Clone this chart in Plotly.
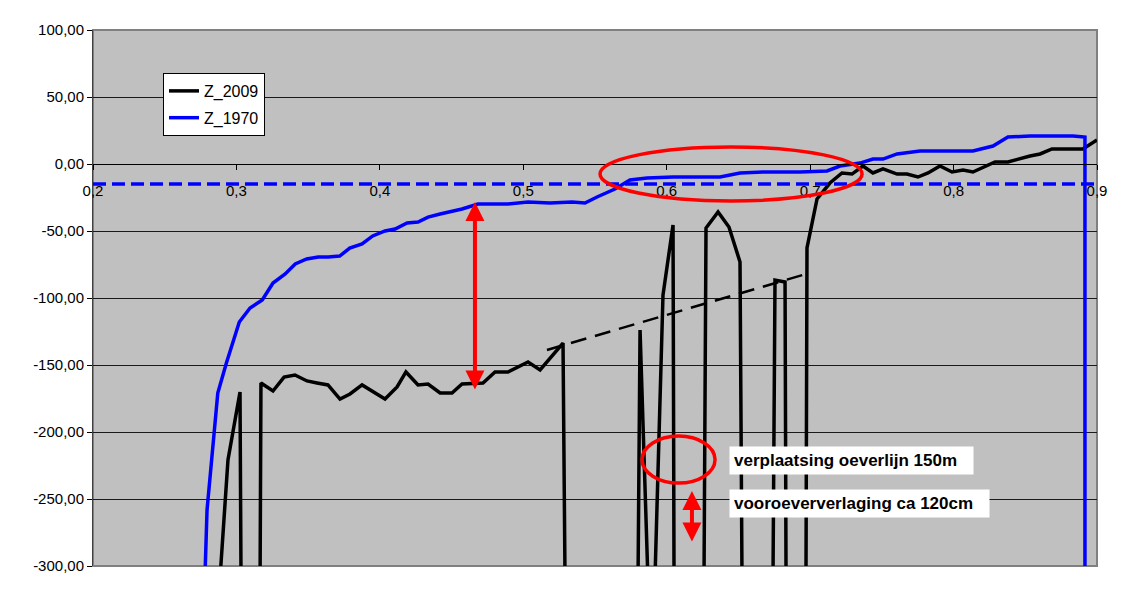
"""Dwarsprofiel: bodemligging 1970 tegenover 2009, met oeverlijn-annotaties."""

import plotly.graph_objects as go

FONT = "Liberation Sans, Arial, sans-serif"

# Z_1970 profile (blue)
x_1970 = [0.278, 0.2795, 0.287, 0.293, 0.302, 0.3095, 0.318, 0.3255, 0.334, 0.341,
          0.349, 0.357, 0.364, 0.372, 0.379, 0.3876, 0.395, 0.4036, 0.4106, 0.419,
          0.4266, 0.4336, 0.442, 0.4503, 0.4573, 0.4684, 0.4803, 0.4893, 0.5033, 0.5117,
          0.5186, 0.534, 0.543, 0.5514, 0.5639, 0.5744, 0.5863, 0.6044, 0.6372, 0.6511,
          0.6671, 0.6929, 0.7118, 0.7208, 0.7348, 0.7438, 0.7508, 0.7606, 0.7696, 0.7766,
          0.8135, 0.8275, 0.8379, 0.8533, 0.8833, 0.8916, 0.8916]
z_1970 = [-310, -258.2, -170.9, -148.5, -117.9, -107.5, -101.5, -88.8, -82.1, -74.6,
          -70.9, -69.4, -69.4, -68.7, -62.7, -59.7, -53.7, -50.0, -48.5, -44.0,
          -43.3, -39.6, -37.3, -35.1, -33.6, -29.9, -29.9, -29.9, -28.4, -29.1,
          -29.1, -28.4, -29.1, -24.6, -18.7, -11.9, -10.4, -9.7, -9.7, -6.7,
          -6.0, -6.0, -5.2, -1.5, 0.7, 3.7, 3.7, 7.5, 9.0, 9.7,
          9.7, 13.4, 20.1, 20.9, 20.9, 20.1, -310]

# Z_2009 profile (black); values below -300 fall outside the chart
x_2009 = [0.2885, 0.2941, 0.3025, 0.3032, 0.3165, 0.3171, 0.3255, 0.3332, 0.3408, 0.3492,
          0.3562, 0.3638, 0.3722, 0.3792, 0.3876, 0.4036, 0.412, 0.4182, 0.4266, 0.4336,
          0.442, 0.4503, 0.4573, 0.4719, 0.4803, 0.4893, 0.5033, 0.5117, 0.5277, 0.5291,
          0.58, 0.5814, 0.5869, 0.5918, 0.5974, 0.6044, 0.6051, 0.626, 0.6274, 0.6358,
          0.6434, 0.6511, 0.6525, 0.6741, 0.6755, 0.6825, 0.6832, 0.6971, 0.6978, 0.7048,
          0.7138, 0.7222, 0.7292, 0.7368, 0.7438, 0.7508, 0.7606, 0.7675, 0.7752, 0.7822,
          0.7905, 0.7989, 0.8066, 0.8135, 0.8289, 0.8379, 0.8533, 0.8603, 0.8686, 0.8902,
          0.9]
z_2009 = [-310, -220.9, -170.1, -310, -310, -163.4, -169.4, -159.0, -157.5, -161.9,
          -163.4, -164.9, -175.4, -171.6, -164.9, -175.4, -166.4, -155.2, -164.9, -164.2,
          -170.9, -170.9, -164.2, -163.4, -155.2, -155.2, -147.8, -153.7, -133.6, -310,
          -310, -123.9, -310, -310, -97.8, -45.5, -310, -310, -47.8, -35.8,
          -47.0, -73.1, -310, -310, -86.6, -88.1, -310, -310, -62.7, -26.1,
          -14.2, -6.7, -7.5, -1.5, -6.7, -3.7, -7.5, -7.5, -9.7, -6.7,
          -1.5, -6.0, -4.5, -6.0, 1.5, 1.5, 6.0, 7.5, 11.2, 11.2,
          17.9]

# reference level (blue dashed) and interpolated bed (black dashed)
ref_x = [0.2, 0.9]
ref_z = [-15.0, -15.0]
trend_x = [0.5165, 0.695]
trend_z = [-138.8, -82.8]

y_ticks = [-300, -250, -200, -150, -100, -50, 0, 50, 100]
y_labels = ["-300,00", "-250,00", "-200,00", "-150,00", "-100,00", "-50,00",
            "0,00", "50,00", "100,00"]
x_ticks = [0.2, 0.3, 0.4, 0.5, 0.6, 0.7, 0.8, 0.9]
x_labels = ["0,2", "0,3", "0,4", "0,5", "0,6", "0,7", "0,8", "0,9"]

notes = ["verplaatsing oeverlijn 150m", "vooroeververlaging ca 120cm"]

fig = go.Figure()
fig.add_trace(go.Scatter(x=x_2009, y=z_2009, mode="lines", name="Z_2009",
                         legendgroup="a", line={"color": "#000000", "width": 3.5}))
fig.add_trace(go.Scatter(x=x_1970, y=z_1970, mode="lines", name="Z_1970",
                         legendgroup="b", line={"color": "#0000FF", "width": 3.5}))
fig.add_trace(go.Scatter(x=trend_x, y=trend_z, mode="lines", showlegend=False,
                         line={"color": "#000000", "width": 2.5, "dash": "16px,9px"}))
fig.add_trace(go.Scatter(x=ref_x, y=ref_z, mode="lines", showlegend=False,
                         line={"color": "#0000FF", "width": 3.5, "dash": "13px,6px"}))

red = "#FF0000"
shapes = [
    # plot area border
    dict(type="rect", xref="paper", yref="paper", x0=0, x1=1, y0=0, y1=1,
         line={"color": "#808080", "width": 2}, layer="below"),
    # red ellipses
    dict(type="circle", xref="x", yref="y", x0=0.5535, x1=0.7362, y0=-27.6, y1=12.7,
         line={"color": red, "width": 3.5}),
    dict(type="circle", xref="x", yref="y", x0=0.5828, x1=0.6337, y0=-238.1, y1=-203.0,
         line={"color": red, "width": 3.5}),
]

annotations = []
for (ax_, top, bottom, size) in [(0.4663, -28.4, -169.4, 0.95), (0.6176, -244.0, -282.8, 0.95)]:
    annotations.append(dict(
        x=ax_, y=top, ax=ax_, ay=bottom, xref="x", yref="y", axref="x", ayref="y",
        text="", showarrow=True, arrowside="end+start", arrowhead=2, startarrowhead=2,
        arrowwidth=4, arrowsize=size, startarrowsize=size, arrowcolor=red,
        standoff=0, startstandoff=0,
    ))
for text, top, w in [(notes[0], -210.4, 235), (notes[1], -242.5, 251)]:
    annotations.append(dict(
        x=0.6434, y=top, xref="x", yref="y", xanchor="left", yanchor="top",
        text=f"<b>{text}</b>", showarrow=False, bgcolor="#FFFFFF", borderpad=4,
        width=w, height=19, align="left",
        font={"family": FONT, "size": 17, "color": "#000000"},
    ))

# the page body adds an 8px offset, so the figure is 8px smaller than the window
fig.update_layout(
    width=1114,
    height=585,
    margin={"l": 85, "r": 25, "t": 22, "b": 27},
    paper_bgcolor="#FFFFFF",
    plot_bgcolor="#C0C0C0",
    font={"family": FONT, "size": 15, "color": "#000000"},
    showlegend=True,
    legend={
        "x": 0.0697, "y": 0.9198, "xanchor": "left", "yanchor": "top",
        "bgcolor": "#FFFFFF", "bordercolor": "#000000", "borderwidth": 1,
        "font": {"family": FONT, "size": 16, "color": "#000000"},
        "traceorder": "grouped", "tracegroupgap": 3,
    },
    shapes=shapes,
    annotations=annotations,
)
fig.update_xaxes(
    range=[0.2, 0.9], tickvals=x_ticks, ticktext=x_labels,
    anchor="free", position=0.75,
    showgrid=False, zeroline=False,
    showline=True, linecolor="#000000", linewidth=1,
    ticks="outside", ticklen=5, tickcolor="#000000", ticklabelstandoff=8,
    tickfont={"size": 15},
)
fig.update_yaxes(
    range=[-300, 100], tickvals=y_ticks, ticktext=y_labels,
    showgrid=True, gridcolor="#1A1A1A", gridwidth=1, zeroline=False,
    showline=True, linecolor="#404040", linewidth=1,
    ticks="outside", ticklen=5, tickcolor="#000000",
    tickfont={"size": 15},
)

fig.write_html("out.html")
